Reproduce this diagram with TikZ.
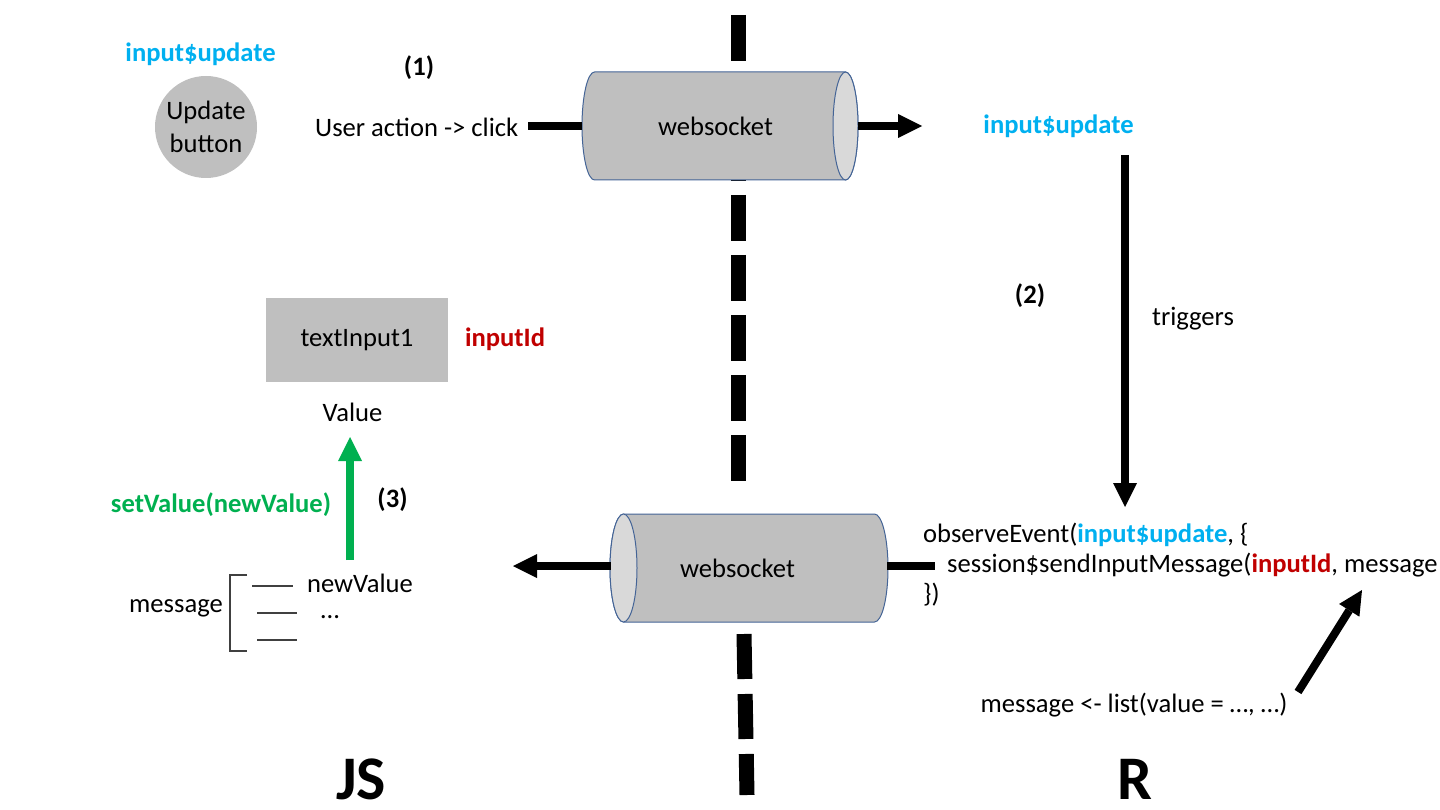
\documentclass[tikz,border=0pt]{standalone}
\usepackage{fontspec}
\setmainfont{Carlito}
\usetikzlibrary{arrows.meta}
\definecolor{cyb}{RGB}{0,176,240}
\definecolor{rid}{RGB}{192,0,0}
\definecolor{grn}{RGB}{0,176,80}
\definecolor{boxgray}{RGB}{191,191,191}
\definecolor{capgray}{RGB}{217,217,217}
\definecolor{cylline}{RGB}{68,100,150}
\begin{document}
\begin{tikzpicture}[x=1pt,y=-1pt,
  every node/.style={inner sep=0pt, font=\fontsize{26.6}{33}\selectfont},
  bl/.style={font=\fontsize{26.6}{33}\selectfont\bfseries},
  cytxt/.style={text=cyb},
  redtxt/.style={text=rid},
  grntxt/.style={text=grn},
  big/.style={font=\fontsize{62}{70}\selectfont\bfseries},
  wsn/.style={minimum width=276pt, minimum height=108pt},
  conn/.style={line width=8pt},
  arr/.style={line width=8pt, -{Triangle[length=24pt,width=24pt,line width=0pt]}},
  garr/.style={arr, draw=grn, color=grn},
  divider/.style={line width=15pt},
  cylbody/.style={fill=boxgray, draw=cylline, line width=1pt},
  cylcap/.style={fill=capgray, draw=cylline, line width=1pt},
  brk/.style={line width=1.3pt, draw=black!75},
]
\useasboundingbox (0,0) rectangle (1440,810);

% dividing line
\draw[divider, dash pattern=on 46pt off 14pt] (738.5,15) -- (738.5,481);
\draw[divider, dash pattern=on 45pt off 15pt] (744,634) -- (747,795);

% cylinder 1 (cap on the right)
\draw[cylbody] (594.5,72) -- (845.5,72)
  arc[start angle=90, end angle=-90, x radius=12.5pt, y radius=54pt]
  -- (594.5,180)
  arc[start angle=-90, end angle=-270, x radius=12.5pt, y radius=54pt] -- cycle;
\draw[cylcap] (845.5,126) ellipse[x radius=12.5pt, y radius=54pt];

% cylinder 2 (cap on the left)
\draw[cylbody] (623.5,514) -- (874.5,514)
  arc[start angle=90, end angle=-90, x radius=13.5pt, y radius=54pt]
  -- (623.5,622)
  arc[start angle=-90, end angle=-270, x radius=13.5pt, y radius=54pt] -- cycle;
\draw[cylcap] (623.5,568) ellipse[x radius=13.5pt, y radius=54pt];

% nodes
\node[bl, cytxt, anchor=base] (tlupd) at (200.5,62) {input\$update};
\node[circle, fill=boxgray, minimum size=102pt, align=center] (btn) at (206,127) {Update\\button};
\node[bl, anchor=base] (s1) at (419,76) {(1)};
\node[anchor=base west] (ua) at (315,137) {User action -> click};
\node[wsn] (ws1) at (720,126) {\hspace*{-9pt}websocket};
\node[bl, cytxt, anchor=base] (rupd) at (1058.5,134) {input\$update};
\node[bl, anchor=base] (s2) at (1030,304) {(2)};
\node[anchor=base] (trig) at (1193,325) {triggers};
\node[fill=boxgray, minimum width=182pt, minimum height=84pt] (ti) at (357,340) {textInput1};
\node[bl, redtxt, anchor=base] (iid) at (505,346) {inputId};
\node[anchor=base] (val) at (352.5,421) {Value};
\node[bl, anchor=base] (s3) at (392.5,507) {(3)};
\node[bl, grntxt, anchor=base] (sv) at (221,512) {setValue(newValue)};
\node[anchor=base] (msg) at (176,612) {message};
\node[anchor=base] (nv) at (360,592) {newValue};
\node[anchor=base] (dots) at (330,618) {…};
\node[wsn] (ws2) at (749,568) {\hspace*{-23pt}websocket};
\node[anchor=base west] (ob1) at (923,542) {observeEvent(\textcolor{cyb}{\bfseries input\$update}, \{};
\node[anchor=base west] (ob2) at (947,572) {session\$sendInputMessage(\textcolor{rid}{\bfseries inputId}, message};
\node[anchor=base west] (ob3) at (923,602) {\})};
\node[anchor=base] (lst) at (1134,712) {message <- list(value = …, …)};
\node[big, anchor=base] (js) at (361,799) {JS};
\node[big, anchor=base] (rr) at (1135,799) {R};

% bracket
\draw[brk] (247,575) -- (230,575) -- (230,651) -- (247,651);
\draw[brk] (252,586) -- (293,586);
\draw[brk] (257,613) -- (297,613);
\draw[brk] (257,640) -- (297,640);

% connectors
\coordinate (uaEnd) at (528,126);
\draw[conn] (uaEnd) -- (ws1.west);
\coordinate (a1tip) at (922,126);
\draw[arr] (ws1.east) -- (a1tip);
\coordinate (trTop) at (1125,155);
\coordinate (trTip) at (1125,507);
\draw[arr] (trTop) -- (trTip);
\coordinate (lTip) at (513,566);
\draw[arr] (ws2.west |- lTip) -- (lTip);
\draw[conn, shorten >=12pt] (ws2.east |- lTip) -- (lTip -| ob2.west);
\coordinate (gS) at (350,560);
\coordinate (gT) at (350,437);
\draw[garr] (gS) -- (gT);
\coordinate (dS) at (1298,692);
\coordinate (dT) at (1362,590);
\draw[arr] (dS) -- (dT);
\end{tikzpicture}
\end{document}
